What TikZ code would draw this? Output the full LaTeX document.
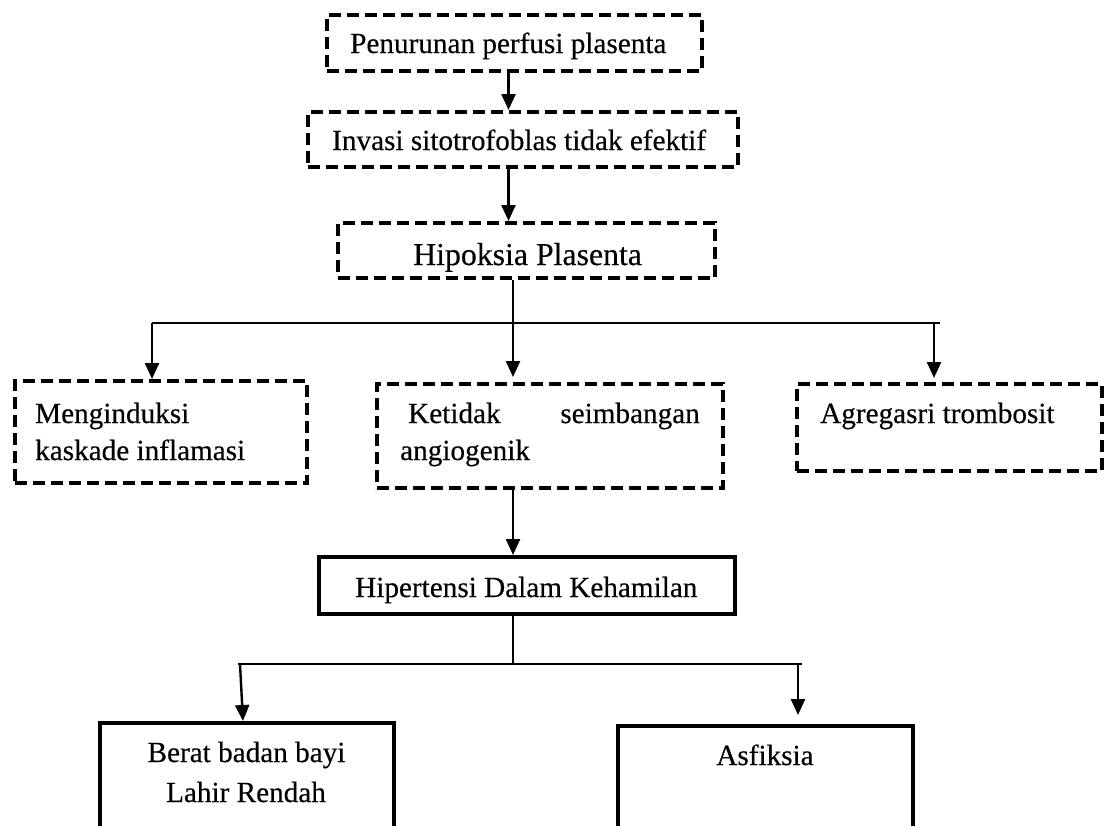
\documentclass[tikz,border=0pt]{standalone}
\usepackage{fontspec}
\setmainfont{Liberation Serif}[FakeBold=0.35]
\usetikzlibrary{arrows.meta}
\begin{document}
\begin{tikzpicture}[x=1pt,y=-1pt,
  dashbox/.style={draw, rectangle, line width=4pt, dash pattern=on 12pt off 6pt, inner sep=0pt},
  solidbox/.style={draw, rectangle, line width=4pt, inner sep=0pt},
  txt/.style={inner sep=0pt, font=\fontsize{29.2}{36}\selectfont},
  bigtxt/.style={inner sep=0pt, font=\fontsize{31.8}{38}\selectfont},
  link/.style={line width=2.4pt},
  arr/.style={line width=2.4pt, -{Triangle[width=14pt,length=16pt]}}]

% canvas
\fill[white] (0,0) rectangle (1110,825);
\useasboundingbox (0,0) rectangle (1110,825);
\clip (0,0) rectangle (1110,825);

% boxes
\node[dashbox, minimum width=375pt, minimum height=56pt] (b1) at (514.5,43) {};
\node[dashbox, minimum width=430pt, minimum height=55pt] (b2) at (523,139.5) {};
\node[dashbox, minimum width=377pt, minimum height=55pt] (b3) at (526.5,250.5) {};
\node[dashbox, minimum width=292pt, minimum height=102pt] (bL) at (161,432) {};
\node[dashbox, minimum width=346pt, minimum height=104pt] (bM) at (550,436) {};
\node[dashbox, minimum width=305pt, minimum height=87pt] (bR) at (949.5,427.5) {};
\node[solidbox, minimum width=416pt, minimum height=57pt] (bH) at (527,585.5) {};
\node[solidbox, minimum width=294pt, minimum height=150pt] (bB) at (247,798) {};
\node[solidbox, minimum width=295pt, minimum height=150pt] (bA) at (765.5,801) {};

% texts
\node[txt, anchor=base west] (t1) at (350,53) {Penurunan perfusi plasenta};
\node[txt, anchor=base west] (t2) at (332,150) {Invasi sitotrofoblas tidak efektif};
\node[bigtxt, anchor=base west] (t3) at (413,265) {Hipoksia Plasenta};
\node[txt, anchor=base west] (tL1) at (35,423) {Menginduksi};
\node[txt, anchor=base west] (tL2) at (35,460) {kaskade inflamasi};
\node[txt, anchor=base west] (tM1) at (408,423) {Ketidak};
\node[txt, anchor=base east] (tM2) at (700,423) {seimbangan};
\node[txt, anchor=base west] (tM3) at (400,460) {angiogenik};
\node[txt, anchor=base west] (tR) at (820,423) {Agregasri trombosit};
\node[txt, anchor=base west] (tH) at (355,597) {Hipertensi Dalam Kehamilan};
\node[txt, anchor=base] (tB1) at (246.5,762) {Berat badan bayi};
\node[txt, anchor=base] (tB2) at (246,802) {Lahir Rendah};
\node[txt, anchor=base] (tA) at (765,765) {Asfiksia};

% connector guides
\coordinate (u) at (508.5,0);
\coordinate (v) at (513,0);
\coordinate (w) at (934,0);
\coordinate (barL) at (152,323);
\coordinate (barR) at (940,323);
\coordinate (lowL) at (238,664);
\coordinate (lowR) at (802,664);
\coordinate (p) at (240,664);
\coordinate (q) at (243,0);
\coordinate (r) at (798,0);

% upper chain
\draw[arr] (b1.south -| u) -- (b2.north -| u);
\draw[arr] (b2.south -| u) -- (b3.north -| u);
\draw[link] (b3.south -| v) -- (v |- barL);
\draw[link] (barL) -- (barR);
\draw[arr] (barL) -- (barL |- bL.north);
\draw[arr, shorten >=5pt] (v |- barL) -- (v |- bM.north);
\draw[arr, shorten >=4pt] (w |- barL) -- (w |- bR.north);

% lower chain
\draw[arr] (bM.south -| v) -- (bH.north -| v);
\draw[link] (bH.south -| v) -- (v |- lowL);
\draw[link] (lowL) -- (lowR);
\draw[arr] (p) -- (q |- bB.north);
\draw[arr, shorten >=9pt] (r |- lowR) -- (r |- bA.north);
\end{tikzpicture}
\end{document}
